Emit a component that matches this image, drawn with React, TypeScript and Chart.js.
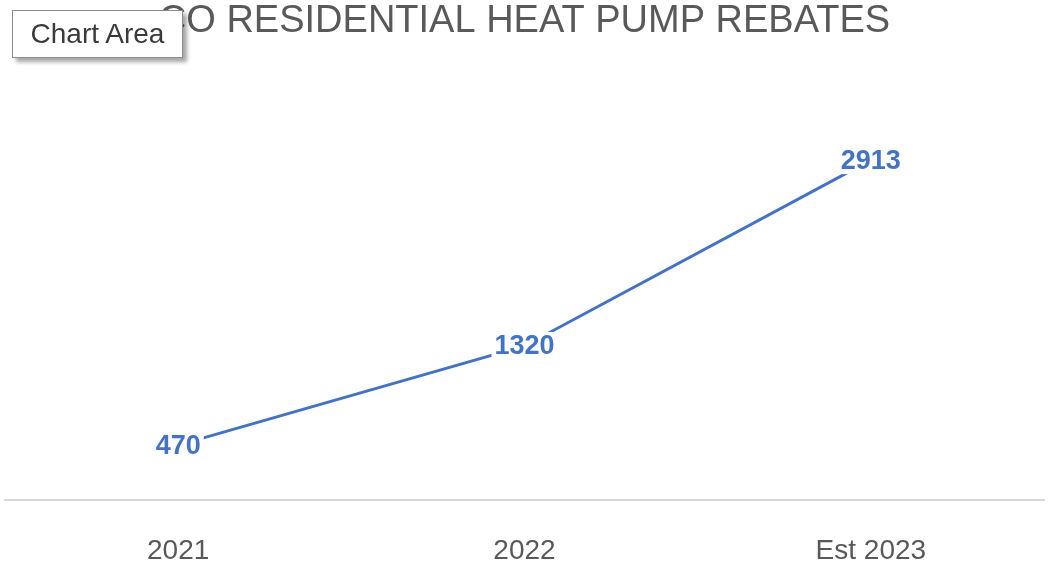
import React, { useEffect, useRef } from "react";
import { Chart, registerables } from "chart.js";

Chart.register(...registerables);

const categories = ["2021", "2022", "Est 2023"];
const rebates = [470, 1320, 2913];
const titleText = "CO RESIDENTIAL HEAT PUMP REBATES";
const yMin = 0;
const yMax = 3500;

const BLUE = "#4472C4";

const labelPlugin = {
  id: "centerLabels",
  afterDatasetsDraw(chart: any) {
    const ctx = chart.ctx;
    const meta = chart.getDatasetMeta(0);
    const data = chart.data.datasets[0].data;
    ctx.save();
    ctx.font = "bold 27px 'Liberation Sans', Arial, sans-serif";
    ctx.textAlign = "center";
    ctx.textBaseline = "middle";
    meta.data.forEach((pt: any, i: number) => {
      const txt = String(data[i]);
      const w = ctx.measureText(txt).width;
      ctx.fillStyle = "#ffffff";
      ctx.fillRect(pt.x - w / 2 - 3, pt.y - 14, w + 6, 28);
      ctx.fillStyle = BLUE;
      ctx.fillText(txt, pt.x, pt.y + 1);
    });
    ctx.restore();
  },
};

export default function App() {
  const ref = useRef<HTMLCanvasElement>(null);
  useEffect(() => {
    document.body.style.margin = "0";
    const chart = new Chart(ref.current as HTMLCanvasElement, {
      type: "line",
      data: {
        labels: categories,
        datasets: [
          {
            data: rebates,
            borderColor: BLUE,
            backgroundColor: BLUE,
            borderWidth: 3,
            pointRadius: 0,
            tension: 0,
          },
        ],
      },
      options: {
        animation: false,
        responsive: false,
        layout: { padding: { left: 5, right: 4, top: 0, bottom: -39 } },
        plugins: {
          legend: { display: false },
          tooltip: { enabled: false },
          title: {
            display: true,
            text: titleText,
            color: "#595959",
            font: { family: "'Liberation Sans', Arial, sans-serif", size: 38, weight: "normal", lineHeight: 1.2 },
            padding: { top: -1, bottom: 47 },
          },
        },
        scales: {
          x: {
            offset: true,
            grid: { display: false, drawTicks: false },
            border: { display: true, color: "#d9d9d9", width: 2 },
            ticks: {
              color: "#595959",
              padding: 37,
              font: { family: "'Liberation Sans', Arial, sans-serif", size: 28, lineHeight: 1 },
            },
          },
          y: {
            display: false,
            min: yMin,
            max: yMax,
          },
        },
      },
      plugins: [labelPlugin],
    });
    return () => chart.destroy();
  }, []);
  return (
    <div style={{ position: "fixed", left: 0, top: 0, width: 1048, height: 563, background: "#fff" }}>
      <canvas ref={ref} width={1048} height={563} style={{ display: "block" }} />
      <div
        style={{
          position: "absolute",
          left: 12,
          top: 10,
          width: 169,
          height: 46,
          border: "1px solid #8c8c8c",
          background: "#fff",
          boxShadow: "4px 4px 4px rgba(0,0,0,0.35)",
          fontFamily: "'Liberation Sans', Arial, sans-serif",
          fontSize: 28,
          color: "#3a3a3a",
          lineHeight: "46px",
          textAlign: "center",
        }}
      >
        Chart Area
      </div>
    </div>
  );
}
